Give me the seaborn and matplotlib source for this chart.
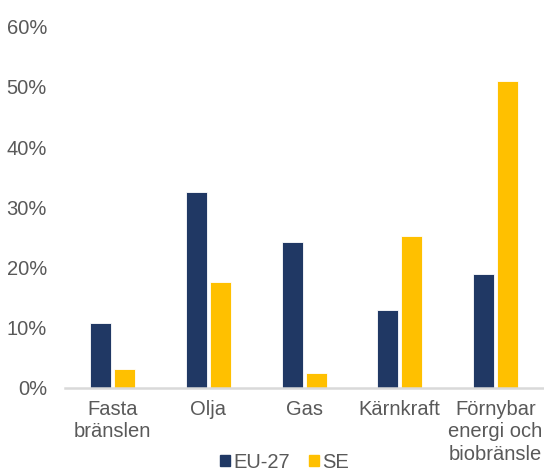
import matplotlib
matplotlib.use("Agg")
import matplotlib.pyplot as plt
import matplotlib.patches as mpatches
import seaborn as sns
import pandas as pd

categories = ["Fasta\nbränslen", "Olja", "Gas", "Kärnkraft", "Förnybar\nenergi och\nbiobränsle"]
eu27 = [10.7, 32.5, 24.3, 12.9, 18.9]
se = [3.1, 17.6, 2.5, 25.3, 51.0]
series = ["EU-27", "SE"]
yticks = [0, 10, 20, 30, 40, 50, 60]

colors = {"EU-27": "#203864", "SE": "#FFC000"}
text_color = "#595959"

df = pd.DataFrame({
    "Kategori": categories * 2,
    "Andel": eu27 + se,
    "Serie": ["EU-27"] * len(categories) + ["SE"] * len(categories),
})

sns.set_theme(style="white")
plt.rcParams["font.family"] = ["Liberation Sans", "DejaVu Sans"]

fig = plt.figure(figsize=(5.44, 4.71), dpi=100)
ax = fig.add_axes([0.1195, 0.177, 0.879, 0.766])

sns.barplot(data=df, x="Kategori", y="Andel", hue="Serie", order=categories,
            hue_order=series, palette=colors, saturation=1, width=0.5, gap=0.12,
            edgecolor="white", linewidth=0.6, legend=False, ax=ax)

ax.set_ylim(0, 60)
ax.set_yticks(yticks)
ax.set_yticklabels([f"{t}%" for t in yticks])
ax.set_xlim(-0.5, len(categories) - 0.5)
ax.set_xlabel("")
ax.set_ylabel("")

for side in ["top", "right", "left"]:
    ax.spines[side].set_visible(False)
ax.spines["bottom"].set_color("#d9d9d9")
ax.spines["bottom"].set_linewidth(1.8)

ax.tick_params(axis="both", length=0, labelsize=14.5, colors=text_color)
ax.tick_params(axis="y", pad=13)
ax.tick_params(axis="x", pad=9)
for lbl in ax.get_xticklabels():
    lbl.set_linespacing(1.22)

handles = [mpatches.Patch(color=colors[s], label=s) for s in series]
fig.legend(handles=handles, loc="center", bbox_to_anchor=(0.523, 0.019), ncol=2,
           frameon=False, fontsize=14.5, handlelength=0.5, handleheight=0.5,
           handletextpad=0.2, columnspacing=0.9, labelcolor=text_color,
           borderpad=0.1)

fig.savefig("out.png", dpi=100)
